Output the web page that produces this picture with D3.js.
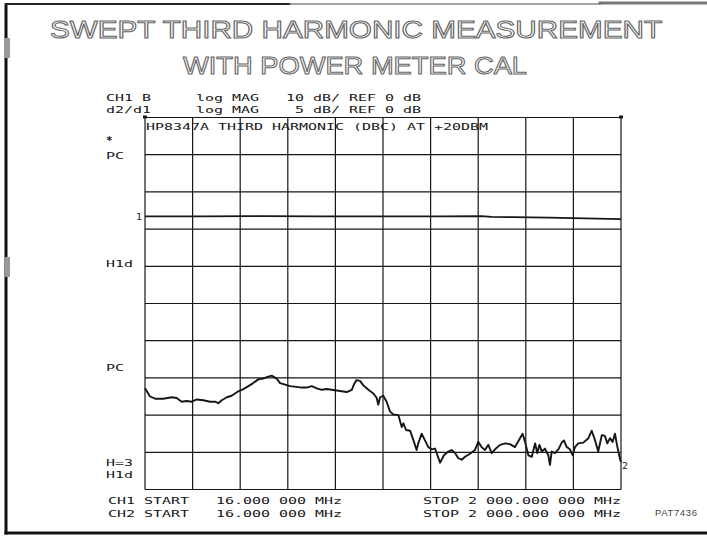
<!DOCTYPE html>
<html>
<head>
<meta charset="utf-8">
<script src="https://cdn.jsdelivr.net/npm/d3@7"></script>
<style>
  body { margin: 0; background: #fff; }
  text { white-space: pre; }
</style>
</head>
<body>
<svg id="chart" width="707" height="537"></svg>
<script>
// sweep (MHz) and the 10 x 10 graticule
const sweep = [16, 2000];
const divisions = d3.range(0, 11);

// CH1: B  log MAG 10 dB/div, REF 0 dB at top line
const ch1Freq = [16, 250, 500, 750, 1000, 1250, 1420, 1460, 1550, 1700, 1850, 2000];
const ch1Db   = [-26.6, -26.6, -26.5, -26.6, -26.6, -26.6, -26.5, -26.7, -26.8, -26.9, -27.1, -27.3];

// CH2: d2/d1  log MAG 5 dB/div, third harmonic (dBc) at +20 dBm
const h3Freq = [16, 37, 58, 92, 127, 148, 169, 190, 211, 232, 259, 287, 308, 322, 336, 357, 377, 391, 405, 426,
  447, 467, 488, 509, 523, 544, 565, 579, 600, 620, 648, 669, 690, 711, 732, 753, 773, 794, 815, 836,
  857, 878, 888, 898, 912, 926, 947, 968, 982, 988, 996, 1009, 1023, 1037, 1051, 1072, 1086, 1093, 1104, 1121,
  1134, 1148, 1155, 1169, 1183, 1197, 1211, 1225, 1246, 1262, 1280, 1294, 1308, 1322, 1336, 1350, 1371, 1391, 1405, 1419,
  1433, 1447, 1461, 1475, 1496, 1517, 1537, 1558, 1579, 1590, 1600, 1614, 1628, 1642, 1651, 1660, 1670, 1683, 1697, 1704,
  1711, 1725, 1739, 1753, 1762, 1774, 1787, 1799, 1808, 1822, 1843, 1864, 1878, 1892, 1905, 1920, 1933, 1943, 1954, 1965,
  1975, 1982, 1989, 1996, 2000];
const h3Dbc = [-36.4, -37.5, -37.8, -37.8, -37.6, -37.7, -38.2, -38.1, -38.2, -37.9, -38.0, -38.2, -38.2, -38.4, -38.0, -37.6, -37.4, -37.1, -36.8, -36.5,
  -36.1, -35.7, -35.2, -35.1, -34.9, -34.7, -35.1, -35.7, -35.9, -36.1, -36.2, -36.3, -36.3, -36.1, -36.4, -36.6, -36.5, -36.6, -36.7, -36.8,
  -36.9, -36.6, -35.8, -35.3, -35.4, -36.0, -36.6, -37.1, -37.7, -38.6, -37.6, -37.4, -38.2, -39.5, -39.9, -40.0, -41.6, -41.1, -42.0, -42.1,
  -43.3, -44.7, -43.8, -42.5, -43.4, -44.3, -44.6, -44.5, -46.4, -45.4, -44.9, -44.7, -45.1, -45.8, -46.0, -45.6, -45.2, -44.7, -43.6, -44.3,
  -44.7, -44.0, -45.1, -44.6, -44.0, -43.8, -43.9, -44.3, -43.1, -42.5, -43.6, -45.4, -45.6, -43.8, -45.1, -44.0, -44.9, -44.5, -45.4, -46.7,
  -44.9, -45.1, -44.6, -43.7, -43.4, -44.3, -44.6, -45.4, -44.3, -43.8, -43.7, -43.1, -42.1, -43.4, -44.9, -42.7, -42.8, -43.8, -43.1, -43.6,
  -42.5, -43.8, -44.9, -45.9, -46.3];

// screen annotations
const titleLines = ["SWEPT THIRD HARMONIC MEASUREMENT", "WITH POWER METER CAL"];
const headerLines = ["CH1 B     log MAG   10 dB/ REF 0 dB", "d2/d1     log MAG    5 dB/ REF 0 dB"];
const traceTitle = "HP8347A THIRD HARMONIC (DBC) AT +20DBM";
const leftLabels = ["*", "PC", "H1d", "PC", "H=3", "H1d"];
const footerLines = ["CH1 START   16.000 000 MHz         STOP 2 000.000 000 MHz",
                     "CH2 START   16.000 000 MHz         STOP 2 000.000 000 MHz"];
const figureId = "PAT7436";

const svg = d3.select("#chart");
const ink = "#161616";
const pitch = 9;

const x = d3.scaleLinear().domain(sweep).range([145, 621]);
const y1 = d3.scaleLinear().domain([-100, 0]).range([489.5, 117.5]);
const y2 = d3.scaleLinear().domain([-50, 0]).range([489.5, 117.5]);
const gx = d3.scaleLinear().domain([0, 10]).range(x.range());
const gy = d3.scaleLinear().domain([0, 10]).range(y2.range());

// plotter style text: wide monospaced glyphs on a fixed pitch
function mono(str, px, py) {
  return svg.append("text")
    .attr("x", px).attr("y", py)
    .attr("font-family", "DejaVu Sans Mono")
    .attr("font-size", 9.5)
    .attr("fill", ink)
    .attr("textLength", str.length * pitch)
    .attr("lengthAdjust", "spacingAndGlyphs")
    .text(str);
}

// page frame (photocopy edges)
const frame = svg.append("g").attr("stroke-linecap", "square");
frame.append("line").attr("x1", 6).attr("y1", 5).attr("x2", 6).attr("y2", 533).attr("stroke", "#111").attr("stroke-width", 3);
frame.append("line").attr("x1", 6).attr("y1", 533).attr("x2", 707).attr("y2", 533).attr("stroke", "#111").attr("stroke-width", 3);
frame.append("line").attr("x1", 6).attr("y1", 4).attr("x2", 290).attr("y2", 4).attr("stroke", "#222").attr("stroke-width", 2);
frame.append("line").attr("x1", 290).attr("y1", 4).attr("x2", 600).attr("y2", 4).attr("stroke", "#888").attr("stroke-width", 1.5);
frame.append("line").attr("x1", 600).attr("y1", 3).attr("x2", 707).attr("y2", 3).attr("stroke", "#777").attr("stroke-width", 3);
frame.append("rect").attr("x", 4).attr("y", 38).attr("width", 6).attr("height", 20).attr("fill", "#999");
frame.append("rect").attr("x", 5).attr("y", 257).attr("width", 5).attr("height", 20).attr("fill", "#999");

// title, outlined lettering
const titleSpan = [[50, 662], [183, 527]];
titleLines.forEach((t, i) => {
  svg.append("text")
    .attr("x", titleSpan[i][0]).attr("y", i === 0 ? 37.5 : 74)
    .attr("font-family", "Liberation Sans, Arial, sans-serif")
    .attr("font-size", 23.5)
    .attr("fill", "#fff")
    .attr("stroke", "#666")
    .attr("stroke-width", 1)
    .attr("textLength", titleSpan[i][1] - titleSpan[i][0])
    .attr("lengthAdjust", "spacingAndGlyphs")
    .text(t);
});

headerLines.forEach((t, i) => mono(t, 106, 101 + i * 12));

// graticule
const grid = svg.append("g").attr("stroke", ink).attr("stroke-width", 1.2).attr("fill", "none");
grid.selectAll("line.v").data(divisions).join("line").attr("class", "v")
  .attr("x1", d => gx(d)).attr("x2", d => gx(d))
  .attr("y1", gy(10)).attr("y2", gy(0));
grid.selectAll("line.h").data(divisions).join("line").attr("class", "h")
  .attr("y1", d => gy(d)).attr("y2", d => gy(d))
  .attr("x1", gx(0)).attr("x2", gx(10));
// small corner ticks at top of graticule
[gx(0), gx(10)].forEach(cx => {
  svg.append("rect").attr("x", cx - 2).attr("y", gy(10) - 2).attr("width", 4).attr("height", 3).attr("fill", ink);
});

mono(traceTitle, 146, 130);

// left annotation labels
const labelY = [y2(-3.2), y2(-5.2), y2(-19.7), y2(-33.7), y2(-46.4), y2(-48.0)];
leftLabels.forEach((t, i) => {
  const el = mono(t, 106, labelY[i] + 3);
  if (t === "*") el.attr("font-weight", "bold").attr("textLength", null).attr("font-size", 11);
});

// traces
const line1 = d3.line().x((d, i) => x(ch1Freq[i])).y(d => y1(d));
const line2 = d3.line().x((d, i) => x(h3Freq[i])).y(d => y2(d));

svg.append("path").datum(ch1Db).attr("d", line1)
  .attr("fill", "none").attr("stroke", ink).attr("stroke-width", 1.8);
svg.append("path").datum(h3Dbc).attr("d", line2)
  .attr("fill", "none").attr("stroke", ink).attr("stroke-width", 1.9)
  .attr("stroke-linejoin", "round");

// channel markers
mono("1", x(sweep[0]) - 9, y1(ch1Db[0]) + 4).attr("textLength", 6);
mono("2", x(sweep[1]) + 1, y2(h3Dbc[h3Dbc.length - 1]) + 7).attr("textLength", 6);

footerLines.forEach((t, i) => mono(t, 108, 504 + i * 12.5));

svg.append("text")
  .attr("x", 655).attr("y", 516)
  .attr("font-family", "Liberation Sans, Arial, sans-serif")
  .attr("font-size", 9.5)
  .attr("fill", "#444")
  .attr("textLength", 42)
  .text(figureId);
</script>
</body>
</html>
